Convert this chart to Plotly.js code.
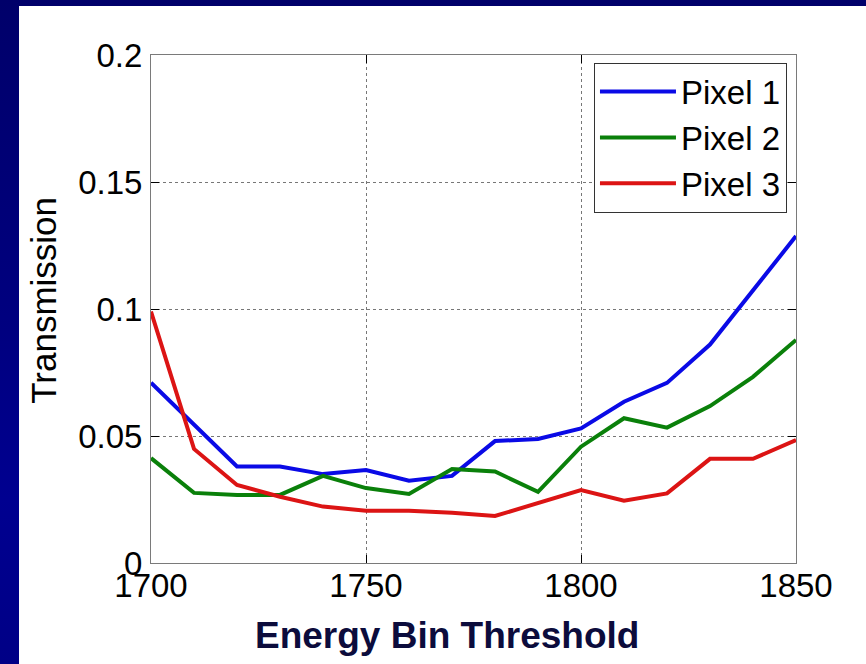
<!DOCTYPE html>
<html>
<head>
<meta charset="utf-8">
<script src="https://cdn.plot.ly/plotly-3.0.1.min.js"></script>
<style>
  html, body { margin: 0; padding: 0; width: 866px; height: 664px; overflow: hidden; }
  body { background: linear-gradient(to bottom, #00006a 0%, #000080 50%, #000090 75%, #000086 100%); position: relative; }
  #panel { position: absolute; left: 19px; top: 6px; right: 0; bottom: 0; background: #ffffff; }
  #chart { position: absolute; left: 0; top: 0; width: 866px; height: 664px; }
</style>
</head>
<body>
<div id="panel"></div>
<div id="chart"></div>
<script>
const energy = [1700, 1710, 1720, 1730, 1740, 1750, 1760, 1770, 1780, 1790, 1800, 1810, 1820, 1830, 1840, 1850];
const pixel1 = [0.0710, 0.0545, 0.0380, 0.0380, 0.0350, 0.0366, 0.0324, 0.0343, 0.0480, 0.0488, 0.0530, 0.0635, 0.0709, 0.0860, 0.1075, 0.1287];
const pixel2 = [0.0413, 0.0276, 0.0268, 0.0268, 0.0343, 0.0295, 0.0272, 0.0370, 0.0360, 0.0280, 0.0458, 0.0570, 0.0533, 0.0618, 0.0733, 0.0878];
const pixel3 = [0.0990, 0.0449, 0.0307, 0.0261, 0.0222, 0.0206, 0.0206, 0.0198, 0.0185, 0.0237, 0.0287, 0.0245, 0.0274, 0.0410, 0.0410, 0.0484];
const seriesNames = ["Pixel 1", "Pixel 2", "Pixel 3"];
const seriesColors = ["#0a0ae6", "#0a800a", "#dc1414"];
const xTicks = [1700, 1750, 1800, 1850];
const yTicks = [0, 0.05, 0.1, 0.15, 0.2];
const yTickText = ["0", "0.05", "0.1", "0.15", "0.2"];

const font = "Arial, 'Liberation Sans', sans-serif";
const traces = [pixel1, pixel2, pixel3].map((ys, i) => ({
  x: energy, y: ys, type: "scatter", mode: "lines", name: seriesNames[i],
  line: { color: seriesColors[i], width: 4 }
}));

const axisCommon = {
  showline: true, linecolor: "#7a7a7a", linewidth: 1, mirror: "ticks",
  ticks: "inside", ticklen: 8, tickcolor: "#000", tickwidth: 1,
  showgrid: true, gridcolor: "#777", griddash: "dot", gridwidth: 1,
  zeroline: false, tickfont: { family: font, size: 33, color: "#000" },
  fixedrange: true
};

const layout = {
  width: 866, height: 664,
  margin: { l: 151, r: 70, t: 55, b: 101, pad: 0 },
  paper_bgcolor: "rgba(0,0,0,0)", plot_bgcolor: "#ffffff",
  showlegend: true,
  legend: {
    x: 0.986, xanchor: "right", y: 0.985, yanchor: "top",
    bgcolor: "#ffffff", bordercolor: "#333", borderwidth: 1,
    font: { family: font, size: 33, color: "#000" },
    itemwidth: 76,
    tracegroupgap: 0
  },
  xaxis: Object.assign({}, axisCommon, {
    range: [1700, 1850], tickvals: xTicks, ticktext: xTicks.map(String),
    ticklabelstandoff: -7
  }),
  yaxis: Object.assign({}, axisCommon, {
    range: [0, 0.2], tickvals: yTicks, ticktext: yTickText,
    ticklabelstandoff: 1
  }),
  annotations: [
    { text: "Energy Bin Threshold", xref: "paper", yref: "paper", x: 0.459, y: -0.142,
      xanchor: "center", yanchor: "middle", showarrow: false,
      font: { family: font, size: 37, color: "#0c0c3c", weight: "bold" } },
    { text: "Transmission", xref: "paper", yref: "paper", x: -0.166, y: 0.518,
      xanchor: "center", yanchor: "middle", showarrow: false, textangle: -90,
      font: { family: font, size: 35, color: "#000" } }
  ]
};

Plotly.newPlot("chart", traces, layout, { displayModeBar: false, staticPlot: true });
</script>
</body>
</html>
